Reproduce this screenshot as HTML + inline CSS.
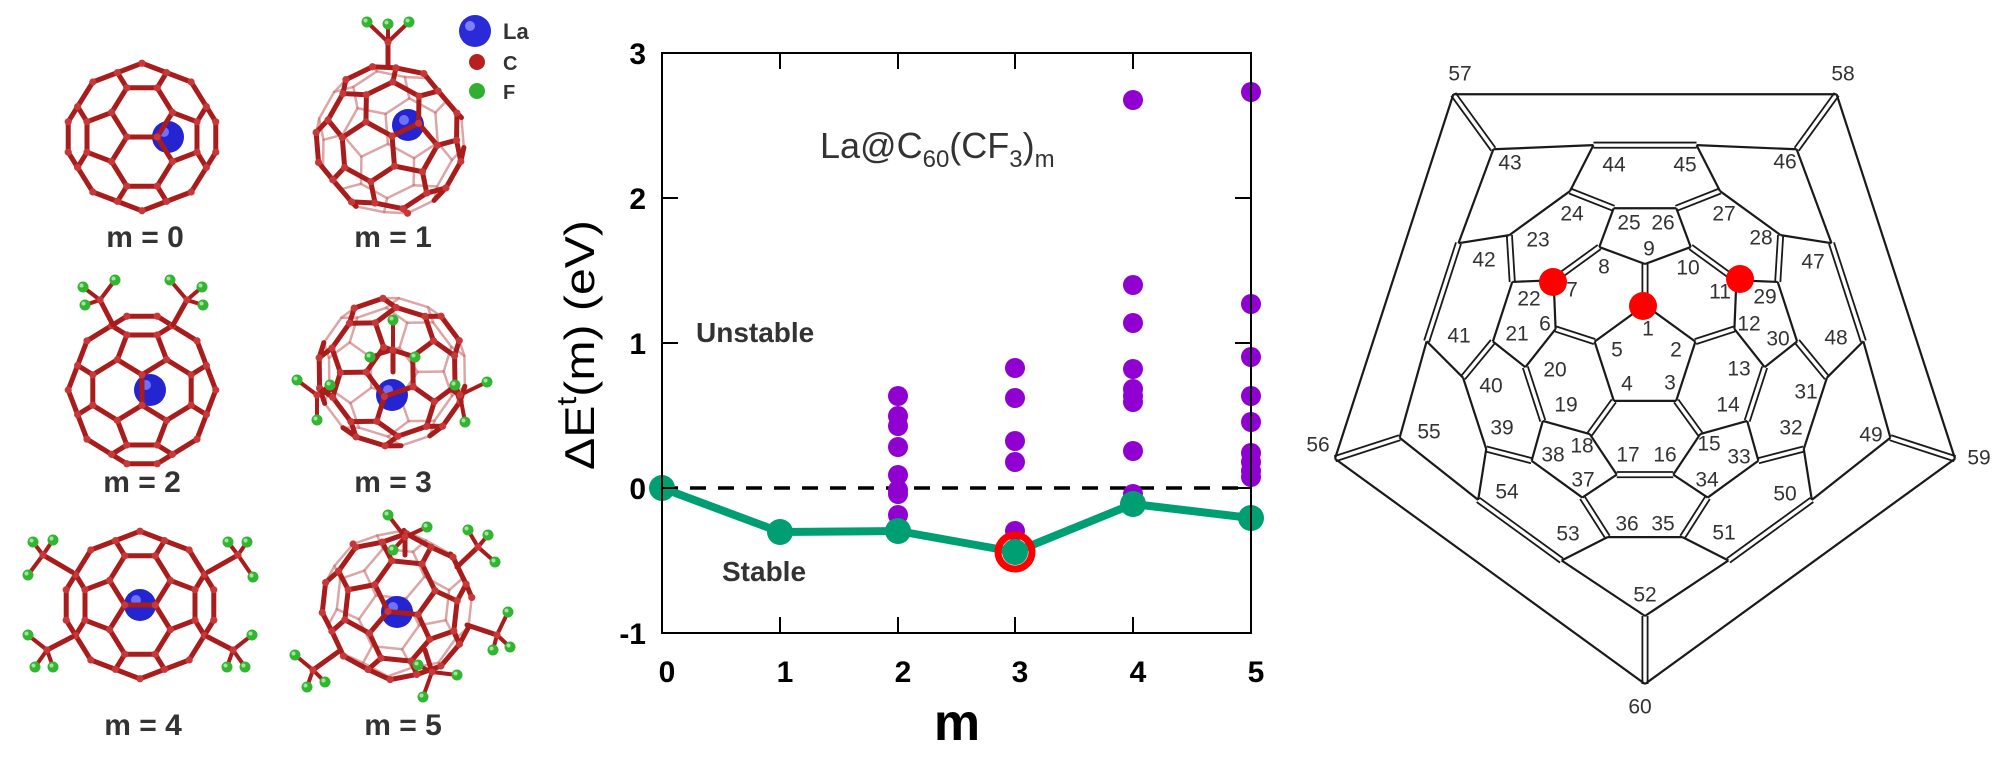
<!DOCTYPE html>
<html><head><meta charset="utf-8"><style>
html,body{margin:0;padding:0;background:#fff;}
svg{display:block;font-family:"Liberation Sans",Arial,sans-serif;}
</style></head><body>
<svg id="s" width="2008" height="770" viewBox="0 0 2008 770" xmlns="http://www.w3.org/2000/svg">
<rect width="2008" height="770" fill="#fff"/>
<g id="mol"></g>
<g id="legend">
<circle cx="475" cy="31" r="16" fill="#2a2ad8"/><circle cx="470" cy="26" r="5" fill="#8080ff"/>
<circle cx="477" cy="62" r="8" fill="#b82020"/>
<circle cx="477" cy="91" r="8" fill="#30b030"/>
<text x="503" y="39" font-size="22" font-weight="bold" fill="#333">La</text>
<text x="503" y="70" font-size="20" font-weight="bold" fill="#333">C</text>
<text x="503" y="99" font-size="20" font-weight="bold" fill="#333">F</text>
</g>
<g font-size="30" font-weight="bold" fill="#333" text-anchor="middle">
<text x="145" y="247">m = 0</text>
<text x="393" y="247">m = 1</text>
<text x="142" y="492">m = 2</text>
<text x="393" y="492">m = 3</text>
<text x="143" y="735">m = 4</text>
<text x="403" y="735">m = 5</text>
</g>

<g id="chart">
<line x1="662" y1="488" x2="1251" y2="488" stroke="#000" stroke-width="3.5" stroke-dasharray="16,12"/>
<g fill="#9000d0">
<circle cx="898" cy="396" r="10"/><circle cx="898" cy="416" r="10"/><circle cx="898" cy="426" r="10"/><circle cx="898" cy="447" r="10"/><circle cx="898" cy="475" r="10"/><circle cx="898" cy="490" r="10"/><circle cx="898" cy="494" r="10"/><circle cx="898" cy="515" r="10"/>
<circle cx="1015" cy="368" r="10"/><circle cx="1015" cy="398" r="10"/><circle cx="1015" cy="441" r="10"/><circle cx="1015" cy="462" r="10"/><circle cx="1015" cy="531" r="10"/>
<circle cx="1133" cy="100" r="10"/><circle cx="1133" cy="285" r="10"/><circle cx="1133" cy="323" r="10"/><circle cx="1133" cy="369" r="10"/><circle cx="1133" cy="389" r="10"/><circle cx="1133" cy="396" r="10"/><circle cx="1133" cy="402" r="10"/><circle cx="1133" cy="451" r="10"/><circle cx="1133" cy="494" r="10"/>
<circle cx="1251" cy="92" r="10"/><circle cx="1251" cy="304" r="10"/><circle cx="1251" cy="357" r="10"/><circle cx="1251" cy="396" r="10"/><circle cx="1251" cy="422" r="10"/><circle cx="1251" cy="453" r="10"/><circle cx="1251" cy="462" r="10"/><circle cx="1251" cy="471" r="10"/><circle cx="1251" cy="477" r="10"/>
</g>
<polyline points="662,488 780,532 898,531 1015,552 1133,504 1251,518" fill="none" stroke="#009e73" stroke-width="8" stroke-linejoin="round"/>
<g fill="#009e73">
<circle cx="662" cy="488" r="13"/><circle cx="780" cy="532" r="13"/><circle cx="898" cy="531" r="13"/><circle cx="1015" cy="552" r="13"/><circle cx="1133" cy="504" r="13"/><circle cx="1251" cy="518" r="13"/>
</g>
<circle cx="1015" cy="552" r="17" fill="none" stroke="#ff0000" stroke-width="7"/>
<rect x="662" y="53" width="589" height="580" fill="none" stroke="#000" stroke-width="2"/>
<g stroke="#000" stroke-width="2">
<line x1="780" y1="633" x2="780" y2="617"/><line x1="898" y1="633" x2="898" y2="617"/><line x1="1015" y1="633" x2="1015" y2="617"/><line x1="1133" y1="633" x2="1133" y2="617"/>
<line x1="780" y1="53" x2="780" y2="69"/><line x1="898" y1="53" x2="898" y2="69"/><line x1="1015" y1="53" x2="1015" y2="69"/><line x1="1133" y1="53" x2="1133" y2="69"/>
<line x1="662" y1="198" x2="678" y2="198"/><line x1="662" y1="343" x2="678" y2="343"/><line x1="662" y1="488" x2="678" y2="488"/>
<line x1="1251" y1="198" x2="1235" y2="198"/><line x1="1251" y1="343" x2="1235" y2="343"/><line x1="1251" y1="488" x2="1235" y2="488"/>
</g>
<g font-size="30" font-weight="bold" fill="#000" text-anchor="end">
<text x="646" y="64">3</text><text x="646" y="209">2</text><text x="646" y="354">1</text><text x="646" y="499">0</text><text x="646" y="644">-1</text>
</g>
<g font-size="30" font-weight="bold" fill="#000" text-anchor="middle">
<text x="667" y="682">0</text><text x="785" y="682">1</text><text x="903" y="682">2</text><text x="1020" y="682">3</text><text x="1138" y="682">4</text><text x="1256" y="682">5</text>
</g>
<text x="957" y="740" font-size="52" font-weight="bold" text-anchor="middle">m</text>
<text transform="translate(594,470) rotate(-90)" font-size="42" fill="#000" textLength="250" lengthAdjust="spacingAndGlyphs">ΔE<tspan font-size="28" dy="-18">t</tspan><tspan dy="18">(m) (eV)</tspan></text>
<text x="820" y="158" font-size="36" fill="#333">La@C<tspan font-size="24" dy="9">60</tspan><tspan dy="-9">(CF</tspan><tspan font-size="24" dy="9">3</tspan><tspan dy="-9">)</tspan><tspan font-size="24" dy="9">m</tspan></text>
<text x="696" y="342" font-size="28" font-weight="bold" fill="#333">Unstable</text>
<text x="722" y="581" font-size="28" font-weight="bold" fill="#333">Stable</text>
</g>

<g id="sch"></g>
<g font-size="21" fill="#333" text-anchor="middle" dominant-baseline="central">
<text x="1460" y="74">57</text><text x="1843" y="74">58</text><text x="1510" y="163">43</text><text x="1614" y="165">44</text><text x="1685" y="165">45</text><text x="1785" y="162">46</text>
<text x="1572" y="214">24</text><text x="1629" y="223">25</text><text x="1663" y="223">26</text><text x="1724" y="214">27</text><text x="1538" y="240">23</text><text x="1649" y="249">9</text>
<text x="1761" y="238">28</text><text x="1484" y="260">42</text><text x="1604" y="267">8</text><text x="1688" y="268">10</text><text x="1813" y="262">47</text><text x="1529" y="299">22</text>
<text x="1572" y="290">7</text><text x="1720" y="292">11</text><text x="1765" y="297">29</text><text x="1545" y="324">6</text><text x="1648" y="329">1</text><text x="1749" y="324">12</text>
<text x="1459" y="336">41</text><text x="1517" y="334">21</text><text x="1778" y="339">30</text><text x="1836" y="338">48</text><text x="1617" y="350">5</text><text x="1676" y="350">2</text>
<text x="1555" y="370">20</text><text x="1739" y="369">13</text><text x="1491" y="386">40</text><text x="1627" y="384">4</text><text x="1670" y="383">3</text><text x="1806" y="392">31</text>
<text x="1566" y="405">19</text><text x="1728" y="405">14</text><text x="1502" y="428">39</text><text x="1791" y="428">32</text><text x="1429" y="432">55</text><text x="1871" y="435">49</text>
<text x="1709" y="444">15</text><text x="1582" y="446">18</text><text x="1553" y="455">38</text><text x="1628" y="455">17</text><text x="1665" y="455">16</text><text x="1739" y="457">33</text>
<text x="1979" y="458">59</text><text x="1318" y="445">56</text><text x="1583" y="480">37</text><text x="1707" y="480">34</text><text x="1507" y="492">54</text><text x="1785" y="494">50</text>
<text x="1627" y="524">36</text><text x="1663" y="524">35</text><text x="1568" y="534">53</text><text x="1724" y="533">51</text><text x="1645" y="595">52</text><text x="1640" y="707">60</text>
</g>
<g fill="#ff0000">
<circle cx="1553" cy="282" r="14"/><circle cx="1643" cy="306" r="14"/><circle cx="1740" cy="279" r="14"/>
</g>
</svg>
<script>
(function(){
var NS="http://www.w3.org/2000/svg";
var phi=(1+Math.sqrt(5))/2;
var V=[],seen={};
var base=[[0,1,3*phi],[1,2+phi,2*phi],[phi,2,2*phi+1]];
base.forEach(function(b){
 [[b[0],b[1],b[2]],[b[2],b[0],b[1]],[b[1],b[2],b[0]]].forEach(function(c){
  [1,-1].forEach(function(sx){[1,-1].forEach(function(sy){[1,-1].forEach(function(sz){
   var p=[c[0]*sx,c[1]*sy,c[2]*sz];
   var k=p.map(function(x){return Math.round(x*1000)}).join(",");
   if(!seen[k]){seen[k]=1;V.push(p);}
  });});});
 });
});
var E=[],adj=V.map(function(){return[]});
for(var i=0;i<V.length;i++)for(var j=i+1;j<V.length;j++){
 var dx=V[i][0]-V[j][0],dy=V[i][1]-V[j][1],dz=V[i][2]-V[j][2];
 if(Math.abs(dx*dx+dy*dy+dz*dz-4)<0.01){E.push([i,j]);adj[i].push(j);adj[j].push(i);}
}
function inPent(a,b){
 for(var x=0;x<3;x++){var c=adj[a][x];if(c==b)continue;
  for(var y=0;y<3;y++){var d=adj[b][y];if(d==a)continue;
   for(var z=0;z<3;z++){var e=adj[c][z];if(e==a)continue;if(adj[d].indexOf(e)>=0&&e!=b)return true;}}}
 return false;
}
var dbl=E.map(function(e){return !inPent(e[0],e[1])});
function el(tag,attrs,parent){var n=document.createElementNS(NS,tag);for(var k in attrs)n.setAttribute(k,attrs[k]);parent.appendChild(n);return n;}
var sch=document.getElementById("sch");
var L=Math.sqrt(1+phi*phi),a=[0,1/L,phi/L];
var u=[1,0,0];
var v=[a[1]*u[2]-a[2]*u[1],a[2]*u[0]-a[0]*u[2],a[0]*u[1]-a[1]*u[0]];
function dot(p,q){return p[0]*q[0]+p[1]*q[1]+p[2]*q[2];}
var idx=V.map(function(p,i){return i}).sort(function(x,y){return dot(V[y],a)-dot(V[x],a)});
var sizes=[5,5,10,10,10,10,5,5],R=[326,258,219,183,153,120,94,53];
var lev=[],k=0;
sizes.forEach(function(s,l){for(var t=0;t<s;t++){lev[idx[k++]]=l;}});
var th0=Math.atan2(dot(V[idx[0]],v),dot(V[idx[0]],u));
var off=Math.PI/2-th0;
var P=V.map(function(p,i){var th=Math.atan2(dot(p,v),dot(p,u))+off;var r=R[lev[i]];return[1645+r*Math.cos(th),358+r*Math.sin(th)];});
E.forEach(function(e,n){
 var A=P[e[0]],B=P[e[1]];
 if(dbl[n]){var dx=B[0]-A[0],dy=B[1]-A[1],l=Math.sqrt(dx*dx+dy*dy),nx=-dy/l*2.6,ny=dx/l*2.6;
  [1,-1].forEach(function(s){el("line",{x1:A[0]+s*nx,y1:A[1]+s*ny,x2:B[0]+s*nx,y2:B[1]+s*ny,stroke:"#1a1a1a","stroke-width":1.8},sch);});
 } else el("line",{x1:A[0],y1:A[1],x2:B[0],y2:B[1],stroke:"#1a1a1a","stroke-width":2.2},sch);
});
var mol=document.getElementById("mol");
function rot(ax,ay,az){
 var cx=Math.cos(ax),sx=Math.sin(ax),cy=Math.cos(ay),sy=Math.sin(ay),cz=Math.cos(az),sz=Math.sin(az);
 var Rx=[[1,0,0],[0,cx,-sx],[0,sx,cx]],Ry=[[cy,0,sy],[0,1,0],[-sy,0,cy]],Rz=[[cz,-sz,0],[sz,cz,0],[0,0,1]];
 function mul(A,B){var C=[[0,0,0],[0,0,0],[0,0,0]];for(var i=0;i<3;i++)for(var j=0;j<3;j++)for(var k=0;k<3;k++)C[i][j]+=A[i][k]*B[k][j];return C;}
 return mul(Rz,mul(Ry,Rx));
}
function cage(cx,cy,s,M,la,groups){
 var g=el("g",{},mol);
 var Q=V.map(function(p){return[cx+s*dot(M[0],p),cy+s*dot(M[1],p),dot(M[2],p)];});
 E.forEach(function(e){var A=Q[e[0]],B=Q[e[1]];if(A[2]+B[2]<0)el("line",{x1:A[0],y1:A[1],x2:B[0],y2:B[1],stroke:"#d08080","stroke-width":2.5,"stroke-linecap":"round",opacity:0.7},g);});
 el("circle",{cx:la[0],cy:la[1],r:16,fill:"#2424d0"},g);
 el("circle",{cx:la[0]-4,cy:la[1]-5,r:5,fill:"#7070ff"},g);
 E.forEach(function(e){var A=Q[e[0]],B=Q[e[1]];if(A[2]+B[2]>=0)el("line",{x1:A[0],y1:A[1],x2:B[0],y2:B[1],stroke:"#a81c1c","stroke-width":5,"stroke-linecap":"round"},g);});
 Q.forEach(function(q){if(q[2]>=-0.5)el("circle",{cx:q[0],cy:q[1],r:3.6,fill:"#c83838"},g);});
 (groups||[]).forEach(function(G){
  var at=G[0],c=G[1];
  el("line",{x1:at[0],y1:at[1],x2:c[0],y2:c[1],stroke:"#a81c1c","stroke-width":5,"stroke-linecap":"round"},g);
  G[2].forEach(function(f){el("line",{x1:c[0],y1:c[1],x2:f[0],y2:f[1],stroke:"#a81c1c","stroke-width":4,"stroke-linecap":"round"},g);});
  G[2].forEach(function(f){el("circle",{cx:f[0],cy:f[1],r:5.5,fill:"#33b533"},g);el("circle",{cx:f[0]-1.5,cy:f[1]-1.5,r:2,fill:"#9be89b"},g);});
  el("circle",{cx:c[0],cy:c[1],r:3.6,fill:"#c83838"},g);
 });
}
var s=15.2;
var M0=[[0,1,0],[1,0,0],[0,0,1]],M2=[[1,0,0],[0,1,0],[0,0,1]];
cage(142,137,s,M0,[168,137]);
cage(390,140,s,rot(0.5,0.35,0.2),[408,125],[[[388,65],[388,42],[[367,22],[388,24],[409,22]]]]);
cage(142,390,s,M2,[150,390],[[[113,325],[100,300],[[83,287],[85,305],[115,280]]],[[173,325],[187,300],[[170,280],[202,287],[203,305]]]]);
cage(392,372,s,rot(-0.55,0,0.3),[392,395],[[[330,390],[317,395],[[297,380],[330,385],[317,420]]],[[452,390],[460,395],[[487,382],[455,385],[465,422]]],[[393,372],[393,350],[[393,320],[370,357],[415,357]]]]);
cage(140,605,s,M0,[140,605],[[[72,572],[43,555],[[33,542],[53,540],[28,575]]],[[208,572],[238,555],[[228,542],[247,542],[253,577]]],[[72,637],[47,650],[[28,635],[35,667],[53,667]]],[[208,637],[233,650],[[252,635],[227,667],[245,667]]]]);
cage(397,605,s,rot(0.3,-0.4,0.5),[397,612],[[[405,555],[405,537],[[388,515],[427,527],[393,550]]],[[457,567],[478,547],[[468,530],[488,535],[495,562]]],[[467,625],[497,635],[[508,612],[510,647],[493,650]]],[[338,652],[313,670],[[295,655],[307,687],[325,682]]],[[425,650],[432,672],[[418,665],[457,675],[423,697]]]]);
})();
</script>
</body></html>
